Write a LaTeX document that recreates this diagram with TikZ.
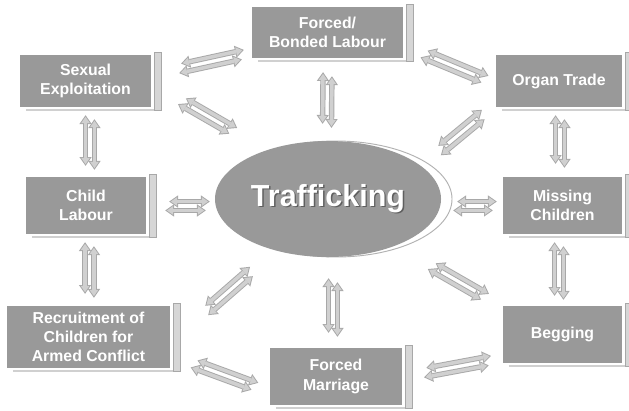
\documentclass[tikz,border=0pt]{standalone}
\usepackage{fontspec}
\setmainfont{Liberation Sans}
\usetikzlibrary{arrows.meta,calc,shapes.geometric}

\definecolor{boxgray}{RGB}{153,153,153}
\definecolor{bargray}{RGB}{214,214,214}
\definecolor{baredge}{RGB}{168,168,168}
\definecolor{linegray}{RGB}{208,208,208}
\definecolor{arrowedge}{RGB}{168,168,168}
\definecolor{arrowfill}{RGB}{208,208,208}
\definecolor{shadowgray}{RGB}{95,95,95}

\tikzset{
  topic/.style={rectangle, fill=boxgray, text=white, align=center, inner sep=0pt,
    font=\bfseries\fontsize{13.5}{16.5}\selectfont},
  arrowout/.style={draw=arrowedge, line width=4.6pt,
    {Triangle[length=7.5pt,width=10.5pt,line width=0pt]}-{Triangle[length=7.5pt,width=10.5pt,line width=0pt]}},
  arrowin/.style={draw=arrowfill, line width=3pt, shorten <=1.4pt, shorten >=1.4pt,
    {Triangle[length=5.3pt,width=7.4pt,line width=0pt]}-{Triangle[length=5.3pt,width=7.4pt,line width=0pt]}}
}

% side bar and bottom line of a box
\newcommand\boxdeco[1]{%
  \draw[linegray, line width=1.6pt] ([shift={(6,3)}]#1.south west) -- ([shift={(10,3)}]#1.south east);
  \filldraw[fill=bargray, draw=baredge, line width=0.6pt]
    ([shift={(3,-2)}]#1.north east) rectangle ([shift={(10,3)}]#1.south east);
}

% pair of two-headed arrows
\newcommand\twoway[2]{%
  \path #1 coordinate (p) #2 coordinate (q);
  \draw[arrowout] ($(p)!3.8pt!-90:(q)$) -- ($(q)!3.4pt!(p)!3.8pt!90:(p)$);
  \draw[arrowin] ($(p)!3.8pt!-90:(q)$) -- ($(q)!3.4pt!(p)!3.8pt!90:(p)$);
  \draw[arrowout] ($(p)!3.4pt!(q)!3.8pt!90:(q)$) -- ($(q)!3.8pt!-90:(p)$);
  \draw[arrowin] ($(p)!3.4pt!(q)!3.8pt!90:(q)$) -- ($(q)!3.8pt!-90:(p)$);
}

\begin{document}
\begin{tikzpicture}[x=0.03cm, y=-0.03cm]
  \useasboundingbox[fill=white] (0,0) rectangle (629,410);

  % centre
  \filldraw[fill=white, draw=gray!60, line width=0.8pt] (336,199) ellipse [x radius=116, y radius=58];
  \node[ellipse, fill=boxgray, minimum width=6.78cm, minimum height=3.48cm, inner sep=0pt,
    text=white, font=\bfseries\fontsize{26}{30}\selectfont] (traf) at (328,199)
    {\makebox[0pt][l]{\raisebox{-1.2pt}{\hspace*{1.2pt}\textcolor{shadowgray}{Trafficking}}}Trafficking};

  % topics
  \node[topic, minimum width=4.53cm, minimum height=1.53cm] (forced) at (327.5,32.5) {Forced/\\Bonded Labour};
  \node[topic, minimum width=3.93cm, minimum height=1.56cm] (sexual) at (85.5,81) {Sexual\\Exploitation};
  \node[topic, minimum width=3.78cm, minimum height=1.56cm] (organ) at (559,81) {Organ Trade};
  \node[topic, minimum width=3.6cm, minimum height=1.71cm] (child) at (86,205.5) {Child\\Labour};
  \node[topic, minimum width=3.57cm, minimum height=1.71cm] (missing) at (562.5,205.5) {Missing\\Children};
  \node[topic, minimum width=4.89cm, minimum height=1.86cm] (recruit) at (88.5,337) {Recruitment of\\Children for\\Armed Conflict};
  \node[topic, minimum width=3.96cm, minimum height=1.71cm] (marriage) at (336,376.5) {Forced\\Marriage};
  \node[topic, minimum width=3.57cm, minimum height=1.71cm] (begging) at (562.5,334.5) {Begging};

  \boxdeco{forced}
  \boxdeco{sexual}
  \boxdeco{organ}
  \boxdeco{child}
  \boxdeco{missing}
  \boxdeco{recruit}
  \boxdeco{marriage}
  \boxdeco{begging}

  % links
  \twoway{([shift={(27,14)}]sexual.north east)}{([shift={(-7,-4)}]forced.south west)}
  \twoway{([shift={(29,-7)}]sexual.south east)}{([shift={(-13,-26)}]traf.north west)}
  \twoway{([shift={(0,14)}]forced.south)}{([shift={(-1,-13)}]traf.north)}
  \twoway{([shift={(19,-5)}]forced.south east)}{([shift={(-9,-1)}]organ.west)}
  \twoway{([shift={(30,-6)}]traf.north east)}{([shift={(-11,6)}]organ.south west)}
  \twoway{([shift={(1,8)}]organ.south)}{([shift={(-2.5,-9)}]missing.north)}
  \twoway{([shift={(4.5,8)}]sexual.south)}{([shift={(4,-7)}]child.north)}
  \twoway{([shift={(19,0.5)}]child.east)}{([shift={(-5,7)}]traf.west)}
  \twoway{([shift={(12,7)}]traf.east)}{([shift={(-6,0.5)}]missing.west)}
  \twoway{([shift={(3.5,8)}]child.south)}{([shift={(1,-8)}]recruit.north)}
  \twoway{([shift={(5,30)}]traf.south west)}{([shift={(35,6)}]recruit.north east)}
  \twoway{([shift={(5,21)}]traf.south)}{([shift={(-3,-11)}]marriage.north)}
  \twoway{([shift={(22,25)}]traf.south east)}{([shift={(-16,-8)}]begging.north west)}
  \twoway{([shift={(-3.5,8)}]missing.south)}{([shift={(-3.5,-6)}]begging.north)}
  \twoway{([shift={(22,-5)}]recruit.south east)}{([shift={(-13,10.5)}]marriage.west)}
  \twoway{([shift={(21,-3.5)}]marriage.east)}{([shift={(-11,-3)}]begging.south west)}
\end{tikzpicture}
\end{document}
